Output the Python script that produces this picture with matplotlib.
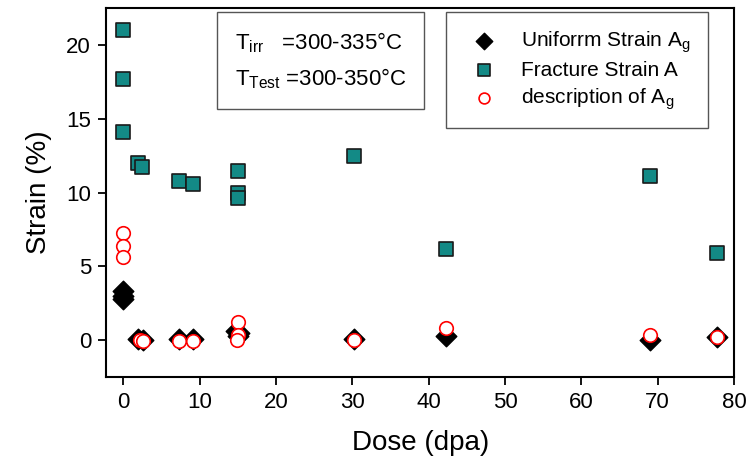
import matplotlib.pyplot as plt
import numpy as np

plt.rcParams['font.family'] = ['Liberation Sans', 'DejaVu Sans']
plt.rcParams['mathtext.fontset'] = 'custom'
plt.rcParams['mathtext.rm'] = 'Liberation Sans'
plt.rcParams['mathtext.it'] = 'Liberation Sans'

# fracture strain A
frac_dose = [0, 0, 0, 2.0, 2.5, 7.3, 9.2, 15, 15.1, 15.1, 30.2, 42.3, 69.0, 77.8]
frac_strain = [21.0, 17.7, 14.1, 12.0, 11.7, 10.8, 10.6, 11.45, 9.95, 9.6, 12.5, 6.2, 11.1, 5.9]

# uniform strain Ag
unif_dose = [0, 0, 0, 2.0, 2.6, 7.3, 9.2, 14.8, 15.1, 15.2, 30.2, 42.3, 69.0, 77.8]
unif_strain = [3.3, 3.0, 2.8, 0.05, 0.0, 0.05, 0.1, 0.6, 0.3, 0.5, 0.1, 0.3, 0.0, 0.2]

# description of Ag
desc_dose = [0, 0, 0, 2.2, 2.6, 7.3, 9.2, 15.1, 15.1, 14.9, 30.2, 42.3, 69.0, 77.8]
desc_strain = [7.25, 6.4, 5.6, 0.0, -0.05, -0.05, -0.05, 1.2, 0.35, 0.0, 0.0, 0.8, 0.35, 0.2]

fig, ax = plt.subplots(figsize=(7.49, 4.73), dpi=100)
fig.subplots_adjust(left=0.142, right=0.98, top=0.983, bottom=0.203)

ax.scatter(frac_dose, frac_strain, marker='s', s=110, c='#138a86',
           edgecolors='#1a1a1a', linewidths=1.2, label='Fracture Strain A', zorder=3)
ax.scatter(unif_dose, unif_strain, marker='D', s=110, c='black',
           label='Uniforrm Strain A$_{\\rm g}$', zorder=4)
ax.scatter(desc_dose, desc_strain, marker='o', s=95, facecolors='white',
           edgecolors='red', linewidths=1.2, label='description of A$_{\\rm g}$', zorder=5)

ax.set_xlim(-2.2, 80)
ax.set_ylim(-2.5, 22.5)
ax.set_xticks(np.arange(0, 81, 10))
ax.set_yticks([0, 5, 10, 15, 20])
ax.tick_params(direction='out', length=6, width=1.3, labelsize=16, pad=5)
for sp in ax.spines.values():
    sp.set_linewidth(1.5)

ax.set_xlabel('Dose (dpa)', fontsize=20, labelpad=12)
ax.set_ylabel('Strain (%)', fontsize=20, labelpad=10)

handles, labels = ax.get_legend_handles_labels()
order = [1, 0, 2]
leg = ax.legend([handles[i] for i in order], [labels[i] for i in order],
                loc='upper right', bbox_to_anchor=(0.958, 0.988), fontsize=15,
                fancybox=False, edgecolor='#555555', framealpha=1,
                handletextpad=0.8, borderpad=0.8, markerscale=0.8,
                labelspacing=0.3, borderaxespad=0)
leg.get_frame().set_linewidth(1.0)

ax.text(0.205, 0.94,
        'T$_{\\rm irr}$   =300-335°C\nT$_{\\rm Test}$ =300-350°C',
        transform=ax.transAxes, fontsize=16, va='top', ha='left',
        linespacing=1.6,
        bbox=dict(boxstyle='square,pad=0.8', facecolor='white',
                  edgecolor='#555555', linewidth=1.0))

plt.savefig('out.png', dpi=100)
